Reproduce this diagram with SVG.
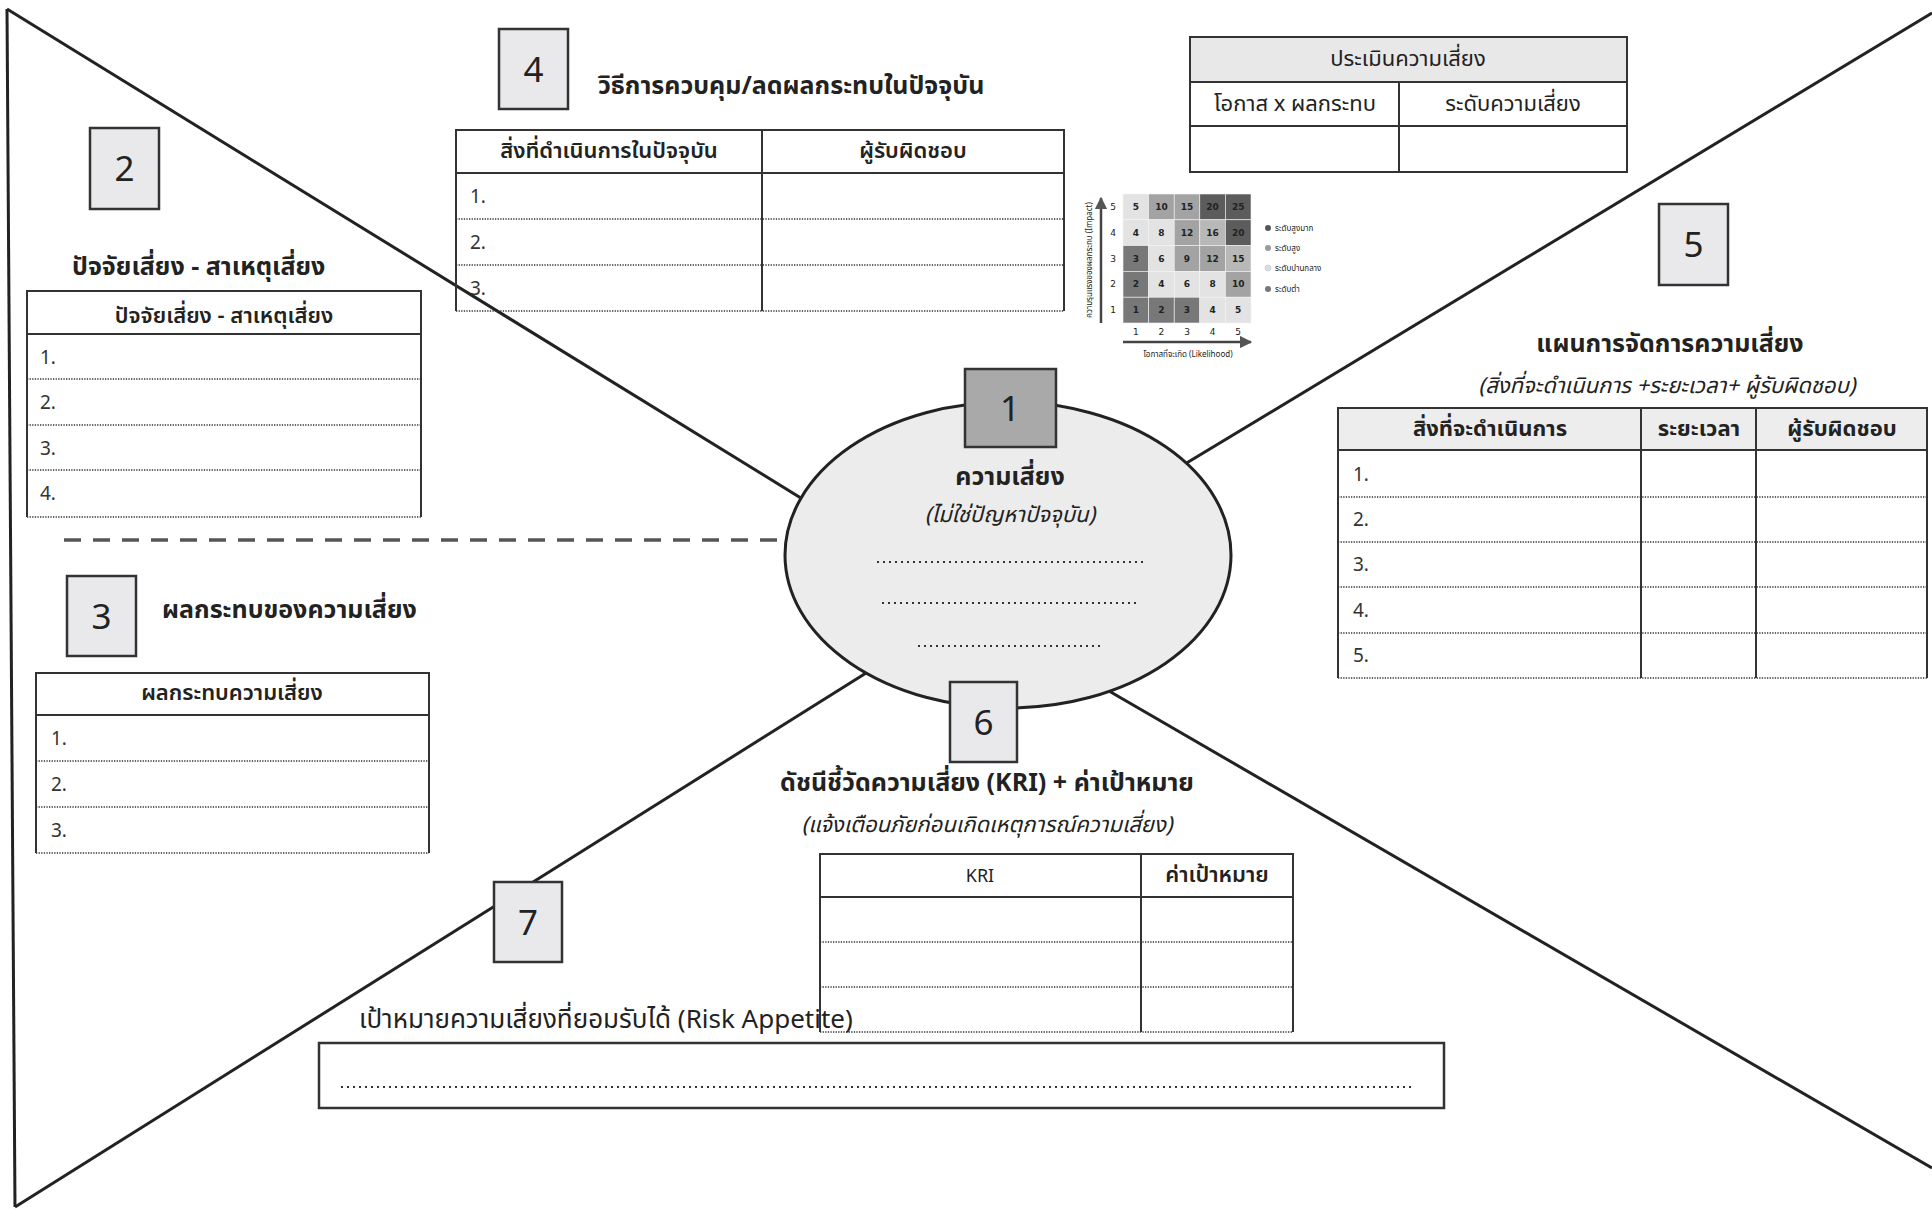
<svg xmlns="http://www.w3.org/2000/svg" width="1932" height="1209" viewBox="0 0 1932 1209">
<defs>
<style>
.t{font-family:"Noto Sans Thai","Tahoma","Noto Sans","DejaVu Sans",sans-serif;fill:#222}
.b{font-weight:bold}
.sb{font-weight:600}
.i{font-style:italic}
.c{text-anchor:middle}
.ln{stroke:#222;stroke-width:3;fill:none}
.box{fill:#e9e9eb;stroke:#333;stroke-width:2.5}
.tb{fill:none;stroke:#333;stroke-width:2}
.dt{stroke:#333;stroke-width:1.4;stroke-dasharray:1.3 1.3;fill:none}
.dl{stroke:#333;stroke-width:2;stroke-dasharray:2 4;fill:none}
.num{font-family:"Noto Sans","DejaVu Sans",sans-serif;font-size:35px;fill:#222;text-anchor:middle}
.h{font-size:25px}
.th{font-size:22px}
.rl{font-size:19px;fill:#333}
.cell{font-family:"DejaVu Sans",sans-serif;font-size:9px;font-weight:bold;fill:#222;text-anchor:middle}
.sm{font-size:8px}
.VH{fill:#5c5c5c}.H{fill:#a3a3a3}.M{fill:#e3e3e3}.L{fill:#787878}
</style>
<marker id="ah" viewBox="0 0 10 10" refX="9" refY="5" markerWidth="5" markerHeight="5" orient="auto"><path d="M0,0L10,5L0,10z" fill="#555"/></marker>
</defs>
<rect width="1932" height="1209" fill="#fff"/>

<g id="connectors">
<line class="ln" x1="7" y1="9" x2="15" y2="1207"/>
<line class="ln" x1="7" y1="9" x2="830" y2="516"/>
<line class="ln" x1="1170" y1="473" x2="1932" y2="13"/>
<line class="ln" x1="890" y1="658" x2="15" y2="1207"/>
<line class="ln" x1="1090" y1="680" x2="1932" y2="1168"/>
<line x1="64" y1="540" x2="784" y2="540" stroke="#555" stroke-width="3.5" stroke-dasharray="17 12"/>
</g>

<g id="node1">
<ellipse cx="1008" cy="555" rx="223" ry="153" fill="#ececec" stroke="#222" stroke-width="3"/>
<rect class="box" x="965" y="369" width="91" height="78" style="fill:#a9a9a9"/>
<text class="num" x="1010" y="421">1</text>
<text class="t b c h" x="1010" y="485">ความเสี่ยง</text>
<text class="t i c" x="1010" y="522" font-size="22">(ไม่ใช่ปัญหาปัจจุบัน)</text>
<line class="dl" x1="877" y1="562" x2="1143" y2="562"/>
<line class="dl" x1="882" y1="603" x2="1138" y2="603"/>
<line class="dl" x1="918" y1="646" x2="1102" y2="646"/>
</g>

<g id="node2">
<rect class="box" x="90" y="128" width="69" height="81"/>
<text class="num" x="124.5" y="181">2</text>
<text class="t b h" x="72" y="275">ปัจจัยเสี่ยง - สาเหตุเสี่ยง</text>
<path class="tb" d="M27,334V291H421V334M27,334H421M27,334V517M421,334V517"/>
<text class="t c th sb" x="224" y="323">ปัจจัยเสี่ยง - สาเหตุเสี่ยง</text>
<path class="dt" d="M27,379H421M27,425H421M27,470H421M27,517H421"/>
<text class="t rl" x="40" y="364">1.</text>
<text class="t rl" x="40" y="409">2.</text>
<text class="t rl" x="40" y="455">3.</text>
<text class="t rl" x="40" y="500">4.</text>
</g>

<g id="node3">
<rect class="box" x="67" y="576" width="69" height="80"/>
<text class="num" x="101.5" y="629">3</text>
<text class="t b h" x="162" y="618">ผลกระทบของความเสี่ยง</text>
<path class="tb" d="M36,715V673H429V715M36,715H429M36,715V853M429,715V853"/>
<text class="t c th sb" x="232" y="700">ผลกระทบความเสี่ยง</text>
<path class="dt" d="M36,761H429M36,807H429M36,853H429"/>
<text class="t rl" x="51" y="745">1.</text>
<text class="t rl" x="51" y="791">2.</text>
<text class="t rl" x="51" y="837">3.</text>
</g>

<g id="node4">
<rect class="box" x="499" y="29" width="69" height="80"/>
<text class="num" x="533.5" y="82">4</text>
<text class="t b h" x="598" y="94">วิธีการควบคุม/ลดผลกระทบในปัจจุบัน</text>
<path class="tb" d="M456,173V130H1064V173M456,173H1064M456,173V311M1064,173V311M762,130V311"/>
<text class="t c th sb" x="609" y="158">สิ่งที่ดำเนินการในปัจจุบัน</text>
<text class="t c th sb" x="913" y="158">ผู้รับผิดชอบ</text>
<path class="dt" d="M456,219H1064M456,265H1064M456,311H1064"/>
<text class="t rl" x="470" y="203">1.</text>
<text class="t rl" x="470" y="249">2.</text>
<text class="t rl" x="470" y="295">3.</text>
</g>

<g id="assessment">
<rect x="1190" y="37" width="437" height="45" fill="#e8e8e8"/>
<path class="tb" d="M1190,37H1627V172H1190ZM1190,82H1627M1190,126H1627M1399,82V172"/>
<text class="t c th" x="1408" y="66">ประเมินความเสี่ยง</text>
<text class="t c th" x="1295" y="111">โอกาส x ผลกระทบ</text>
<text class="t c th" x="1513" y="111">ระดับความเสี่ยง</text>
</g>

<g id="heatmap">
<line x1="1101" y1="323" x2="1101" y2="198" stroke="#444" stroke-width="2.5" marker-end="url(#ah)"/>
<line x1="1123" y1="342" x2="1251" y2="342" stroke="#444" stroke-width="2.5" marker-end="url(#ah)"/>
<g stroke="#f4f4f4" stroke-width="0.6">
<rect class="M" x="1123" y="194" width="25.6" height="25.8"/><rect class="H" x="1148.6" y="194" width="25.6" height="25.8"/><rect class="H" x="1174.2" y="194" width="25.6" height="25.8"/><rect class="VH" x="1199.8" y="194" width="25.6" height="25.8"/><rect class="VH" x="1225.4" y="194" width="25.6" height="25.8"/>
<rect class="M" x="1123" y="219.8" width="25.6" height="25.8"/><rect class="M" x="1148.6" y="219.8" width="25.6" height="25.8"/><rect class="H" x="1174.2" y="219.8" width="25.6" height="25.8"/><rect class="H" x="1199.8" y="219.8" width="25.6" height="25.8" style="fill:#b8b8b8"/><rect class="VH" x="1225.4" y="219.8" width="25.6" height="25.8"/>
<rect class="L" x="1123" y="245.6" width="25.6" height="25.8"/><rect class="M" x="1148.6" y="245.6" width="25.6" height="25.8"/><rect class="H" x="1174.2" y="245.6" width="25.6" height="25.8"/><rect class="H" x="1199.8" y="245.6" width="25.6" height="25.8"/><rect class="H" x="1225.4" y="245.6" width="25.6" height="25.8" style="fill:#b8b8b8"/>
<rect class="L" x="1123" y="271.4" width="25.6" height="25.8"/><rect class="M" x="1148.6" y="271.4" width="25.6" height="25.8"/><rect class="M" x="1174.2" y="271.4" width="25.6" height="25.8"/><rect class="M" x="1199.8" y="271.4" width="25.6" height="25.8"/><rect class="H" x="1225.4" y="271.4" width="25.6" height="25.8"/>
<rect class="L" x="1123" y="297.2" width="25.6" height="25.8"/><rect class="L" x="1148.6" y="297.2" width="25.6" height="25.8"/><rect class="L" x="1174.2" y="297.2" width="25.6" height="25.8"/><rect class="M" x="1199.8" y="297.2" width="25.6" height="25.8"/><rect class="M" x="1225.4" y="297.2" width="25.6" height="25.8"/>
</g>
<text class="cell" x="1135.8" y="210">5</text><text class="cell" x="1161.4" y="210">10</text><text class="cell" x="1187" y="210">15</text><text class="cell" x="1212.6" y="210">20</text><text class="cell" x="1238.2" y="210">25</text>
<text class="cell" x="1135.8" y="236">4</text><text class="cell" x="1161.4" y="236">8</text><text class="cell" x="1187" y="236">12</text><text class="cell" x="1212.6" y="236">16</text><text class="cell" x="1238.2" y="236">20</text>
<text class="cell" x="1135.8" y="262">3</text><text class="cell" x="1161.4" y="262">6</text><text class="cell" x="1187" y="262">9</text><text class="cell" x="1212.6" y="262">12</text><text class="cell" x="1238.2" y="262">15</text>
<text class="cell" x="1135.8" y="287">2</text><text class="cell" x="1161.4" y="287">4</text><text class="cell" x="1187" y="287">6</text><text class="cell" x="1212.6" y="287">8</text><text class="cell" x="1238.2" y="287">10</text>
<text class="cell" x="1135.8" y="313">1</text><text class="cell" x="1161.4" y="313">2</text><text class="cell" x="1187" y="313">3</text><text class="cell" x="1212.6" y="313">4</text><text class="cell" x="1238.2" y="313">5</text>
<g class="cell" style="font-weight:normal">
<text x="1113" y="210">5</text><text x="1113" y="236">4</text><text x="1113" y="262">3</text><text x="1113" y="287">2</text><text x="1113" y="313">1</text>
<text x="1135.8" y="335">1</text><text x="1161.4" y="335">2</text><text x="1187" y="335">3</text><text x="1212.6" y="335">4</text><text x="1238.2" y="335">5</text>
</g>
<text class="t c sm" x="1188" y="357" fill="#555">โอกาสที่จะเกิด (Likelihood)</text>
<text class="t c sm" transform="translate(1092,260) rotate(-90)" fill="#555">ความรุนแรงของผลกระทบ (Impact)</text>
<circle cx="1268" cy="228" r="3" fill="#555"/><circle cx="1268" cy="248" r="3" fill="#999"/><circle cx="1268" cy="268" r="3" fill="#ddd" stroke="#bbb" stroke-width="0.5"/><circle cx="1268" cy="289" r="3" fill="#777"/>
<text class="t sm" x="1275" y="231">ระดับสูงมาก</text>
<text class="t sm" x="1275" y="251">ระดับสูง</text>
<text class="t sm" x="1275" y="271">ระดับปานกลาง</text>
<text class="t sm" x="1275" y="292">ระดับต่ำ</text>
</g>

<g id="node5">
<rect class="box" x="1659" y="204" width="69" height="81"/>
<text class="num" x="1693.5" y="257">5</text>
<text class="t b c h" x="1670" y="352">แผนการจัดการความเสี่ยง</text>
<text class="t i c" x="1667" y="393" font-size="22">(สิ่งที่จะดำเนินการ +ระยะเวลา+ ผู้รับผิดชอบ)</text>
<rect x="1338" y="408" width="589" height="42" fill="#ededed"/>
<path class="tb" d="M1338,450V408H1927V450M1338,450H1927M1338,450V678M1927,450V678M1641,408V678M1756,408V678"/>
<text class="t b c th" x="1490" y="436">สิ่งที่จะดำเนินการ</text>
<text class="t b c th" x="1699" y="436">ระยะเวลา</text>
<text class="t b c th" x="1842" y="436">ผู้รับผิดชอบ</text>
<path class="dt" d="M1338,497H1927M1338,542H1927M1338,587H1927M1338,633H1927M1338,678H1927"/>
<text class="t rl" x="1353" y="481">1.</text>
<text class="t rl" x="1353" y="526">2.</text>
<text class="t rl" x="1353" y="571">3.</text>
<text class="t rl" x="1353" y="617">4.</text>
<text class="t rl" x="1353" y="662">5.</text>
</g>

<g id="node6">
<rect class="box" x="950" y="682" width="67" height="80"/>
<text class="num" x="983.5" y="735">6</text>
<text class="t b c h" x="987" y="791">ดัชนีชี้วัดความเสี่ยง (KRI) + ค่าเป้าหมาย</text>
<text class="t i c" x="987" y="832" font-size="22">(แจ้งเตือนภัยก่อนเกิดเหตุการณ์ความเสี่ยง)</text>
<path class="tb" d="M820,897V854H1293V897M820,897H1293M820,897V1032M1293,897V1032M1141,854V1032"/>
<text class="t c" x="980" y="882" font-size="18">KRI</text>
<text class="t c th sb" x="1217" y="882">ค่าเป้าหมาย</text>
<path class="dt" d="M820,942H1293M820,987H1293M820,1032H1293"/>
</g>

<g id="node7">
<rect class="box" x="494" y="882" width="68" height="80"/>
<text class="num" x="528" y="935">7</text>
<text class="t" x="359" y="1028" font-size="26">เป้าหมายความเสี่ยงที่ยอมรับได้ (Risk Appetite)</text>
<rect x="319" y="1043" width="1125" height="65" fill="none" stroke="#333" stroke-width="2.5"/>
<line class="dl" x1="341" y1="1087" x2="1412" y2="1087" stroke-dasharray="2 3.5"/>
</g>
</svg>
